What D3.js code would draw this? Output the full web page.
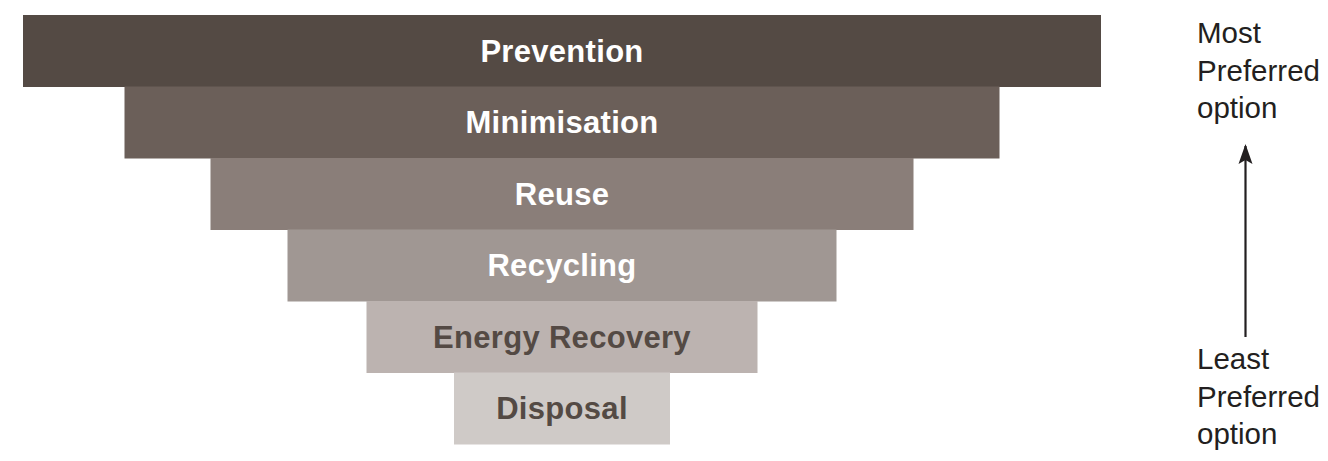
<!DOCTYPE html>
<html>
<head>
<meta charset="utf-8">
<script src="https://cdn.jsdelivr.net/npm/d3@7"></script>
<style>
html,body{margin:0;padding:0;background:#fff;}
svg{display:block;}
</style>
</head>
<body>
<svg id="chart" width="1328" height="461"></svg>
<script>
const categories = ["Prevention","Minimisation","Reuse","Recycling","Energy Recovery","Disposal"];
const widths = [1078, 875, 703, 549, 391, 216];
const fills = ["#544a44","#6b5f59","#8a7e79","#a09793","#bcb3b0","#cfcac7"];
const labelColors = ["#ffffff","#ffffff","#ffffff","#ffffff","#544a44","#544a44"];
const topLabel = ["Most","Preferred","option"];
const bottomLabel = ["Least","Preferred","option"];

const svg = d3.select("#chart");
const cx = 562;
const y = d3.scaleBand().domain(categories).range([15, 444]).padding(0);
const w = d3.scaleLinear().domain([0, d3.max(widths)]).range([0, 1078]);

const data = categories.map((c,i)=>({c, v: widths[i], fill: fills[i], tc: labelColors[i]}));

svg.append("g").selectAll("rect").data(data).join("rect")
  .attr("x", d => cx - w(d.v)/2)
  .attr("y", d => y(d.c))
  .attr("width", d => w(d.v))
  .attr("height", y.bandwidth() + 0.5)
  .attr("fill", d => d.fill);

svg.append("g").selectAll("text").data(data).join("text")
  .attr("x", cx)
  .attr("y", d => y(d.c) + y.bandwidth()/2)
  .attr("dy", "0.36em")
  .attr("text-anchor", "middle")
  .attr("font-family", "'Liberation Sans', Arial, Helvetica, sans-serif")
  .attr("font-weight", "bold")
  .attr("font-size", "31px")
  .attr("letter-spacing", "0.3px")
  .attr("fill", d => d.tc)
  .text(d => d.c);

const lab = svg.append("g")
  .attr("font-family", "'Liberation Sans', Arial, Helvetica, sans-serif")
  .attr("font-size", "29.5px")
  .attr("fill", "#231f20");
lab.selectAll("text.t").data(topLabel).join("text").attr("class","t")
  .attr("x", 1197).attr("y", (d,i) => 43 + i*37.5).text(d => d);
lab.selectAll("text.b").data(bottomLabel).join("text").attr("class","b")
  .attr("x", 1197).attr("y", (d,i) => 369 + i*37.5).text(d => d);

svg.append("line")
  .attr("x1",1245.5).attr("x2",1245.5).attr("y1",337).attr("y2",146)
  .attr("stroke","#231f20").attr("stroke-width",2.2);
svg.append("path")
  .attr("d","M1245.5,144 L1252.5,164 L1245.5,160 L1238.5,164 Z")
  .attr("fill","#231f20");
</script>
</body>
</html>
